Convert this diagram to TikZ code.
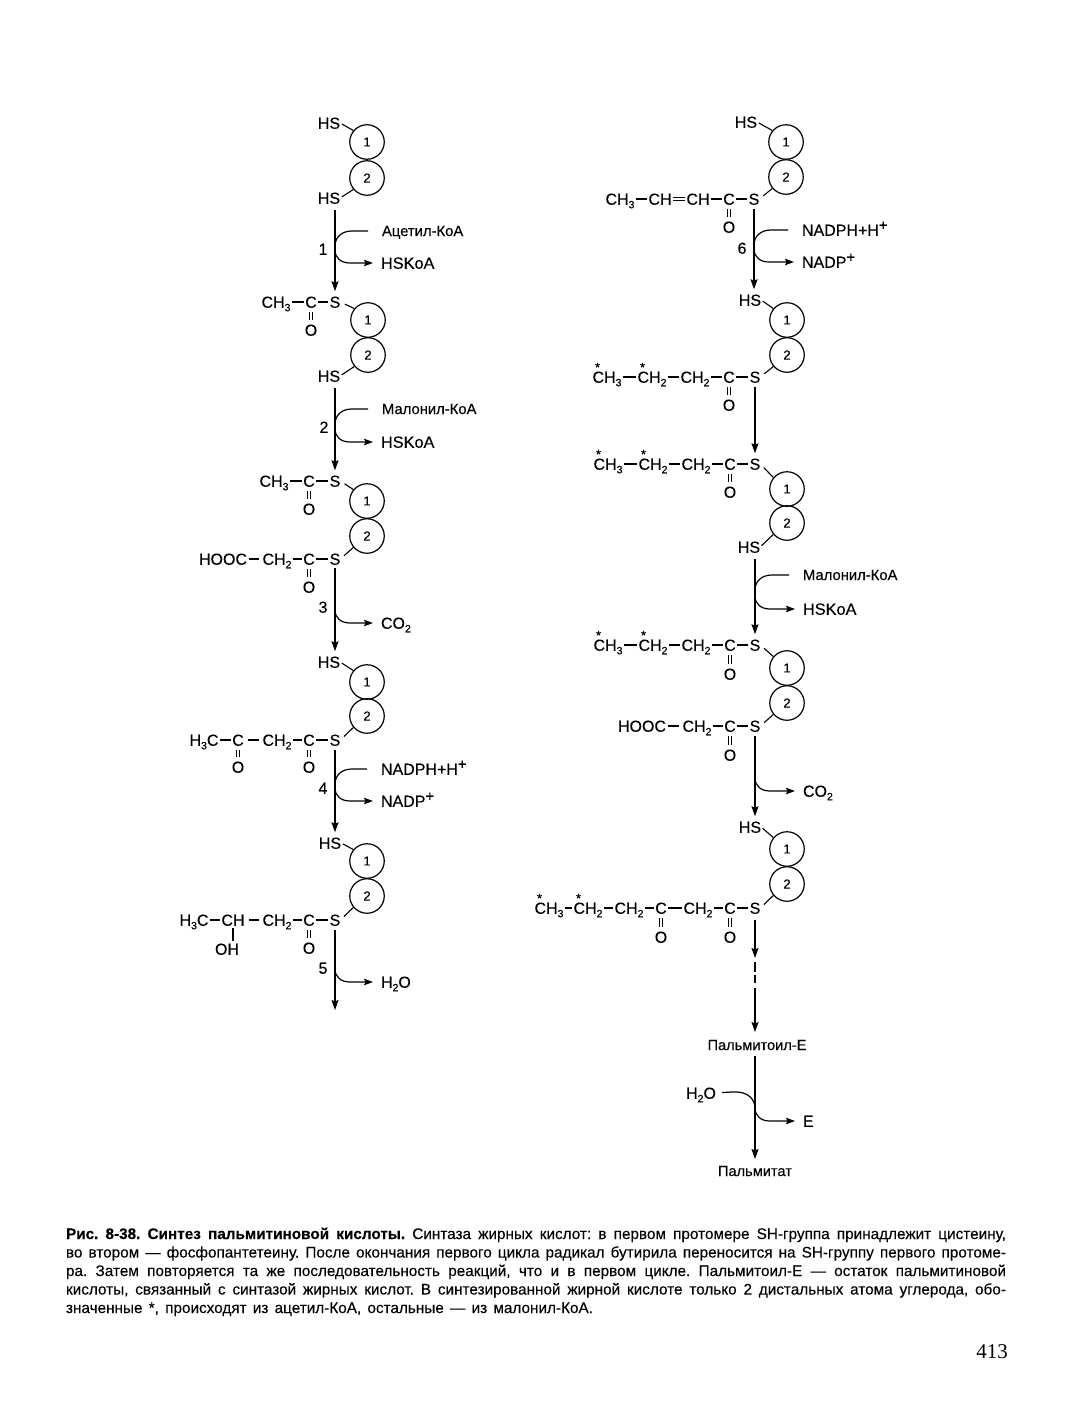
\documentclass[tikz,border=0pt]{standalone}
\usepackage{fontspec}
\setmainfont{Liberation Sans}[FakeBold=0.2,BoldFeatures={FakeBold=0.2}]
\newfontfamily\pagefont{Liberation Serif}
\usetikzlibrary{arrows.meta,calc}
\newcommand\subx[1]{\raisebox{-3.5pt}{\fontsize{10.5}{10}\selectfont #1}}
\newcommand\supx[1]{\raisebox{5.5pt}{\fontsize{15}{10}\selectfont #1}}
\newcommand\stc{\makebox[0pt][l]{\hspace{2.5pt}\raisebox{11pt}{\fontsize{13}{13}\selectfont *}}}
\tikzset{
  x=1pt,y=-1pt,
  atom/.style={inner sep=0pt,outer sep=0pt,text height=11.5pt,text depth=0pt,font=\fontsize{16}{16}\selectfont},
  lab/.style={atom,anchor=west},
  sm/.style={lab,text height=10pt,font=\fontsize{14.8}{15}\selectfont},
  hsk/.style={lab,font=\fontsize{16.3}{16}\selectfont},
  prot/.style={circle,draw=black,line width=1.2pt,minimum size=34.5pt,inner sep=0pt,font=\fontsize{13}{13}\selectfont},
  bond/.style={line width=1.2pt,shorten <=1.5pt,shorten >=1.5pt},
  wbond/.style={bond,shorten <=4pt,shorten >=4pt},
  lnk/.style={line width=1.1pt,shorten <=2pt},
  lnks/.style={line width=1.1pt,shorten <=5pt},
  dblv/.style={double,double distance=2.6pt,line width=.9pt,shorten <=4.5pt,shorten >=4.5pt},
  dblh/.style={double,double distance=2pt,line width=.8pt,shorten <=1pt,shorten >=1pt},
  rxn/.style={line width=1.2pt,shorten <=4pt,shorten >=5pt,-{Stealth[length=10pt,width=7pt,inset=1.5pt]}},
  bline/.style={line width=1.2pt},
  bout/.style={line width=1.2pt,shorten >=8pt,-{Stealth[length=9pt,width=6.5pt,inset=1.5pt]}},
  capl/.style={anchor=base west,inner sep=0pt,outer sep=0pt,font=\frenchspacing\fontsize{15.3}{15}\selectfont},
}
% atom node, name x y text
\newcommand\atm[4]{\node[atom] (#1) at (#2,#3) {#4};}
% protomer pair
\newcommand\prt[4]{\node[prot] (#11) at (#2,#3) {1}; \node[prot] (#12) at (#2,#4) {2};}
% carbonyl C with O below
\newcommand\cox[4]{\node[atom] (#1) at (#2,#3) {C}; \node[atom] (#1o) at (#2,#4) {O}; \draw[dblv] (#1) -- (#1o);}
% incoming branch into the main arrow
\newcommand\brin[2]{\draw[bline,shorten <=14pt] (#1.west) -- ($(#1.west -| #2)+(17,0)$) .. controls ($(#1.west -| #2)+(7,0)$) and ($(#1.west -| #2)+(0,6)$) .. ($(#1.west -| #2)+(0,15)$);}
% outgoing branch from the main arrow
\newcommand\brout[2]{\draw[bout] ($(#1.west -| #2)+(0,-13)$) .. controls ($(#1.west -| #2)+(0,-5)$) and ($(#1.west -| #2)+(6,0)$) .. ($(#1.west -| #2)+(15,0)$) -- (#1.west);}
\begin{document}
\begin{tikzpicture}
\useasboundingbox[fill=white] (0,0) rectangle (1077,1424);

% ---------- left column ----------
\atm{hsA}{329}{123}{HS}
\prt{pA}{367}{142}{178}
\atm{hsAb}{329}{198}{HS}
\draw[lnk] (hsA.east) -- (pA1.140);
\draw[lnk] (hsAb.east) -- (pA2.220);

\atm{chB}{276}{302}{CH\subx{3}}
\cox{cB}{311}{302}{330}
\atm{sB}{335}{302}{S}
\prt{pB}{368}{320}{355}
\atm{hsB}{329}{376}{HS}
\draw[bond] (chB) -- (cB);
\draw[bond] (cB) -- (sB);
\draw[lnks] (sB.east) -- (pB1.140);
\draw[lnk] (hsB.east) -- (pB2.220);

\draw[rxn,shorten <=6pt] (hsAb.south -| sB.north) -- (sB.north);
\node[sm] (lAc) at (382,231) {Ацетил-КоА};
\node[hsk] (lHs1) at (381,263) {HSKoA};
\atm{n1}{323}{249}{1}
\brin{lAc}{sB}
\brout{lHs1}{sB}

\atm{chC}{274}{481}{CH\subx{3}}
\cox{cC}{309}{481}{509}
\atm{sC}{335}{481}{S}
\prt{pC}{367}{501}{536}
\draw[bond] (chC) -- (cC);
\draw[bond] (cC) -- (sC);
\draw[lnks] (sC.east) -- (pC1.140);
\atm{hoD}{223}{559}{HOOC}
\atm{chD}{277}{559}{CH\subx{2}}
\cox{cD}{309}{559}{587}
\atm{sD}{335}{559}{S}
\draw[bond,shorten >=4pt] (hoD) -- (chD);
\draw[bond] (chD) -- (cD);
\draw[bond] (cD) -- (sD);
\draw[lnks] (sD.east) -- (pC2.220);

\draw[rxn,shorten <=6pt] (hsB.south -| sC.north) -- (sC.north);
\node[sm] (lMa) at (382,409) {Малонил-КоА};
\node[hsk] (lHs2) at (381,442) {HSKoA};
\atm{n2}{324}{427}{2}
\brin{lMa}{sC}
\brout{lHs2}{sC}

\atm{hsE}{329}{662}{HS}
\prt{pE}{367}{682}{716}
\draw[lnk] (hsE.east) -- (pE1.140);
\atm{hcF}{204}{740}{H\subx{3}C}
\cox{c1F}{238}{740}{767}
\atm{chF}{277}{740}{CH\subx{2}}
\cox{c2F}{309}{740}{767}
\atm{sF}{335}{740}{S}
\draw[bond] (hcF) -- (c1F);
\draw[wbond] (c1F) -- (chF);
\draw[bond] (chF) -- (c2F);
\draw[bond] (c2F) -- (sF);
\draw[lnks] (sF.east) -- (pE2.220);

\draw[rxn,shorten <=3pt] (sD.south) -- (sD.south |- hsE.north);
\atm{n3}{323}{607}{3}
\node[lab] (lCo1) at (381,623) {CO\subx{2}};
\brout{lCo1}{sD}

\atm{hsG}{330}{843}{HS}
\prt{pG}{367}{861}{896}
\draw[lnk] (hsG.east) -- (pG1.140);
\atm{hcH}{194}{920}{H\subx{3}C}
\atm{chH}{233}{920}{CH}
\atm{ohH}{227}{949}{OH}
\atm{ch2H}{277}{920}{CH\subx{2}}
\cox{cH}{309}{920}{948}
\atm{sH}{335}{920}{S}
\draw[bond] (hcH) -- (chH);
\draw[wbond] (chH) -- (ch2H);
\draw[bond] (ch2H) -- (cH);
\draw[bond] (cH) -- (sH);
\draw[bond,shorten <=2pt,shorten >=2pt] (chH.south) -- (chH.south |- ohH.north);
\draw[lnks] (sH.east) -- (pG2.220);

\draw[rxn,shorten <=4pt] (sF.south) -- (sF.south |- hsG.north);
\node[lab] (lNd1) at (381,769) {NADPH+H\supx{+}};
\node[lab] (lNp1) at (381,801) {NADP\supx{+}};
\atm{n4}{323}{788}{4}
\brin{lNd1}{sF}
\brout{lNp1}{sF}

\coordinate (endL) at (335,1010);
\draw[rxn,shorten <=4pt,shorten >=0pt] (sH.south) -- (endL);
\node[lab] (lW1) at (381,982) {H\subx{2}O};
\atm{n5}{323}{968}{5}
\brout{lW1}{sH}

% ---------- right column ----------
\atm{hsI}{746}{122}{HS}
\prt{pI}{786}{142}{177}
\draw[lnk] (hsI.east) -- (pI1.140);
\atm{ch3I}{620}{199}{CH\subx{3}}
\atm{ch1I}{660}{199}{CH}
\atm{ch2I}{698}{199}{CH}
\cox{cI}{729}{199}{227}
\atm{sI}{754}{199}{S}
\draw[bond] (ch3I) -- (ch1I);
\draw[dblh] (ch1I) -- (ch2I);
\draw[bond] (ch2I) -- (cI);
\draw[bond] (cI) -- (sI);
\draw[lnks] (sI.east) -- (pI2.220);

\atm{hsJ}{750}{300}{HS}
\prt{pJ}{787}{320}{355}
\draw[lnk] (hsJ.east) -- (pJ1.140);
\draw[rxn] (sI.south) -- (sI.south |- hsJ.north);
\node[lab] (lNd2) at (802,230) {NADPH+H\supx{+}};
\node[lab] (lNp2) at (802,262) {NADP\supx{+}};
\atm{n6}{742}{248}{6}
\brin{lNd2}{sI}
\brout{lNp2}{sI}

\atm{ch3K}{607}{377}{\stc CH\subx{3}}
\atm{ch2K}{652}{377}{\stc CH\subx{2}}
\atm{chK}{695}{377}{CH\subx{2}}
\cox{cK}{729}{377}{405}
\atm{sK}{755}{377}{S}
\draw[bond] (ch3K) -- (ch2K);
\draw[bond] (ch2K) -- (chK);
\draw[bond] (chK) -- (cK);
\draw[bond] (cK) -- (sK);
\draw[lnks] (sK.east) -- (pJ2.220);

\atm{ch3L}{608}{464}{\stc CH\subx{3}}
\atm{ch2L}{653}{464}{\stc CH\subx{2}}
\atm{chL}{696}{464}{CH\subx{2}}
\cox{cL}{730}{464}{492}
\atm{sL}{755}{464}{S}
\prt{pL}{787}{489}{523}
\atm{hsL}{749}{547}{HS}
\draw[bond] (ch3L) -- (ch2L);
\draw[bond] (ch2L) -- (chL);
\draw[bond] (chL) -- (cL);
\draw[bond] (cL) -- (sL);
\draw[lnks] (sL.east) -- (pL1.140);
\draw[lnk] (hsL.east) -- (pL2.220);
\draw[rxn,shorten <=4pt] (sK.south) -- (sK.south |- sL.north);

\atm{ch3M}{608}{645}{\stc CH\subx{3}}
\atm{ch2M}{653}{645}{\stc CH\subx{2}}
\atm{chM}{696}{645}{CH\subx{2}}
\cox{cM}{730}{645}{674}
\atm{sM}{755}{645}{S}
\prt{pM}{787}{668}{703}
\draw[bond] (ch3M) -- (ch2M);
\draw[bond] (ch2M) -- (chM);
\draw[bond] (chM) -- (cM);
\draw[bond] (cM) -- (sM);
\draw[lnks] (sM.east) -- (pM1.140);

\draw[rxn,shorten <=6pt] (hsL.south -| sM.north) -- (sM.north);
\node[sm] (lMa2) at (803,575) {Малонил-КоА};
\node[hsk] (lHs3) at (803,609) {HSKoA};
\brin{lMa2}{sM}
\brout{lHs3}{sM}

\atm{hoN}{642}{726}{HOOC}
\atm{chN}{697}{726}{CH\subx{2}}
\cox{cN}{730}{726}{755}
\atm{sN}{755}{726}{S}
\draw[bond,shorten >=4pt] (hoN) -- (chN);
\draw[bond] (chN) -- (cN);
\draw[bond] (cN) -- (sN);
\draw[lnks] (sN.east) -- (pM2.220);

\atm{hsO}{750}{827}{HS}
\prt{pO}{787}{849}{884}
\draw[lnk] (hsO.east) -- (pO1.140);
\draw[rxn,shorten <=4pt] (sN.south) -- (sN.south |- hsO.north);
\node[lab] (lCo2) at (803,791) {CO\subx{2}};
\brout{lCo2}{sN}

\atm{ch3P}{549}{908}{\stc CH\subx{3}}
\atm{ch2P}{588}{908}{\stc CH\subx{2}}
\atm{chP}{629}{908}{CH\subx{2}}
\cox{c1P}{661}{908}{937}
\atm{ch4P}{698}{908}{CH\subx{2}}
\cox{c2P}{730}{908}{937}
\atm{sP}{755}{908}{S}
\draw[bond] (ch3P) -- (ch2P);
\draw[bond] (ch2P) -- (chP);
\draw[bond] (chP) -- (c1P);
\draw[bond] (c1P) -- (ch4P);
\draw[bond] (ch4P) -- (c2P);
\draw[bond] (c2P) -- (sP);
\draw[lnks] (sP.east) -- (pO2.220);

\node[atom,font=\fontsize{14.6}{15}\selectfont,text height=10pt] (pal) at (757,1045) {Пальмитоил-Е};
\coordinate (dash1) at (755,958);
\coordinate (dash2) at (755,988);
\draw[rxn,shorten <=6pt,shorten >=0pt] (sP.south) -- (dash1);
\draw[line width=1.1pt,dash pattern=on 10pt off 3pt on 8pt off 9pt] (dash1)++(0,4) -- (dash2);
\draw[rxn,shorten <=0pt,shorten >=8pt] (dash2) -- (dash2 |- pal.north);

\node[atom,font=\fontsize{14.6}{15}\selectfont,text height=10pt] (plt) at (755,1171) {Пальмитат};
\coordinate (axP) at (755,1100);
\draw[rxn,shorten <=6pt,shorten >=7pt] (axP |- pal.south) -- (axP |- plt.north);
\node[atom] (wat) at (701,1093) {H\subx{2}O};
\node[lab] (enz) at (803,1121) {E};
\draw[bline,shorten <=6pt] (wat.east) -- ($(wat.east -| axP)+(-24,-1)$) .. controls ($(wat.east -| axP)+(-10,-2)$) and ($(wat.east -| axP)+(-2,3)$) .. ($(wat.east -| axP)+(0,13)$);
\brout{enz}{axP}

% ---------- caption ----------
\node[capl] (cap1) at (66,1239) {\hbox to 940pt{\textbf{Рис. 8-38. Синтез пальмитиновой кислоты.} Синтаза жирных кислот: в первом протомере SH-группа принадлежит цистеину,}};
\node[capl] (cap2) at (66,1257.5) {\hbox to 940pt{во втором — фосфопантетеину. После окончания первого цикла радикал бутирила переносится на SH-группу первого протоме-}};
\node[capl] (cap3) at (66,1276) {\hbox to 940pt{ра. Затем повторяется та же последовательность реакций, что и в первом цикле. Пальмитоил-Е — остаток пальмитиновой}};
\node[capl] (cap4) at (66,1294.5) {\hbox to 940pt{кислоты, связанный с синтазой жирных кислот. В синтезированной жирной кислоте только 2 дистальных атома углерода, обо-}};
\node[capl] (cap5) at (66,1313) {\hbox to 527pt{значенные *, происходят из ацетил-КоА, остальные — из малонил-КоА.}};
\node[anchor=base,inner sep=0pt,font=\pagefont\fontsize{21}{21}\selectfont] (pgn) at (992,1358) {413};
\end{tikzpicture}
\end{document}
